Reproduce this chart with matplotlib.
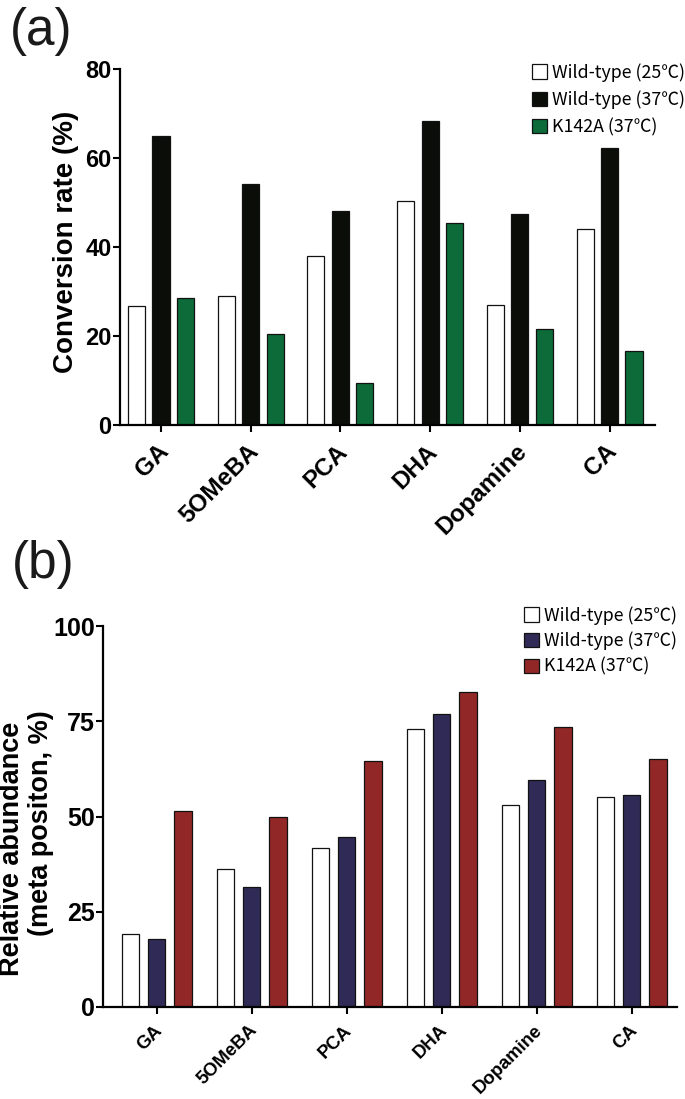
import matplotlib
matplotlib.use("Agg")
import matplotlib.pyplot as plt
import matplotlib.transforms as mtransforms
from matplotlib.patches import Patch
import numpy as np

# Data
categories = ["GA", "5OMeBA", "PCA", "DHA", "Dopamine", "CA"]
series_labels = ["Wild-type (25\u2103)", "Wild-type (37\u2103)", "K142A (37\u2103)"]

# (a) conversion rate (%)
conv_wt25 = [26.8, 29.0, 38.0, 50.3, 27.0, 44.0]
conv_wt37 = [65.0, 54.2, 48.2, 68.3, 47.5, 62.3]
conv_k142a = [28.5, 20.5, 9.5, 45.4, 21.5, 16.6]

# (b) relative abundance (meta position, %)
rel_wt25 = [19.1, 36.2, 41.8, 73.0, 53.1, 55.1]
rel_wt37 = [17.8, 31.6, 44.6, 77.0, 59.6, 55.7]
rel_k142a = [51.5, 50.0, 64.5, 82.7, 73.6, 65.0]

a_ticks = [0, 20, 40, 60, 80]
b_ticks = [0, 25, 50, 75, 100]

colors_a = ["#ffffff", "#0b0d08", "#0c6b39"]
colors_b = ["#ffffff", "#2f2b56", "#922727"]

W, H = 685, 1099
plt.rcParams["font.family"] = ["Liberation Sans", "DejaVu Sans"]
fig = plt.figure(figsize=(W / 100, H / 100), dpi=100)


def px_axes(left, right, top, bottom):
    return fig.add_axes([left / W, 1 - bottom / H, (right - left) / W, (bottom - top) / H])


def style_axes(ax, ticks, tick_fs, xlab_fs, xpad, xshift):
    for s in ["top", "right"]:
        ax.spines[s].set_visible(False)
    for s in ["left", "bottom"]:
        ax.spines[s].set_linewidth(1.6)
    ax.set_yticks(ticks)
    ax.set_yticklabels([str(t) for t in ticks], fontsize=tick_fs, fontweight="bold")
    ax.tick_params(axis="y", length=5, width=1.5, pad=1)
    ax.tick_params(axis="x", length=5, width=1.5, pad=xpad)
    ax.set_xticks(np.arange(len(categories)))
    ax.set_xticklabels(categories, rotation=45, ha="right", va="center",
                       rotation_mode="anchor", fontsize=xlab_fs, fontweight="bold")
    shift = mtransforms.ScaledTranslation(xshift / 100, 0, fig.dpi_scale_trans)
    for lab in ax.get_xticklabels():
        lab.set_transform(lab.get_transform() + shift)


def draw_bars(ax, series, cols, width, off):
    x = np.arange(len(categories))
    for i, (vals, c) in enumerate(zip(series, cols)):
        ax.bar(x + (i - 1) * off, vals, width=width, color=c,
               edgecolor="#111111", linewidth=0.9, zorder=2)


legend_font = {"family": ["Noto Sans CJK KR", "DejaVu Sans"], "size": 12.8}

# ---- panel (a)
ax1 = px_axes(120, 655, 69, 425)
draw_bars(ax1, [conv_wt25, conv_wt37, conv_k142a], colors_a, 0.19, 0.273)
ax1.set_xlim(-0.457, 5.507)
ax1.set_ylim(0, 80)
style_axes(ax1, a_ticks, 17, 17.5, 11.5, 4)
handles = [Patch(facecolor=c, edgecolor="#111111", linewidth=0.9) for c in colors_a]
ax1.legend(handles, series_labels, loc="upper left",
           bbox_to_anchor=(532 / W, 1 - 63 / H), bbox_transform=fig.transFigure,
           frameon=False, prop=legend_font, handlelength=0.85, handleheight=0.85,
           handletextpad=0.3, labelspacing=0.5, borderpad=0, borderaxespad=0)

# ---- panel (b)
ax2 = px_axes(103, 677, 626, 1007)
draw_bars(ax2, [rel_wt25, rel_wt37, rel_k142a], colors_b, 0.185, 0.275)
ax2.set_xlim(-0.565, 5.477)
ax2.set_ylim(0, 100)
style_axes(ax2, b_ticks, 18, 13.3, 10, 3)
handles = [Patch(facecolor=c, edgecolor="#111111", linewidth=0.9) for c in colors_b]
ax2.legend(handles, series_labels, loc="upper left",
           bbox_to_anchor=(524 / W, 1 - 606 / H), bbox_transform=fig.transFigure,
           frameon=False, prop=legend_font, handlelength=0.85, handleheight=0.85,
           handletextpad=0.3, labelspacing=0.4, borderpad=0, borderaxespad=0)

# axis titles
fig.text(66 / W, 1 - 242 / H, "Conversion rate (%)", rotation=90, ha="center",
         va="center", fontsize=20, fontweight="bold")
fig.text(12 / W, 1 - 849 / H, "Relative abundance", rotation=90, ha="center",
         va="center", fontsize=19.5, fontweight="bold")
fig.text(41 / W, 1 - 823 / H, "(meta positon, %)", rotation=90, ha="center",
         va="center", fontsize=19.5, fontweight="bold")

# panel letters
fig.text(10 / W, 1 - 45 / H, "(a)", fontsize=37, va="baseline", color="#1a1a1a")
fig.text(12 / W, 1 - 578 / H, "(b)", fontsize=37, va="baseline", color="#1a1a1a")

fig.savefig("out.png", dpi=100)
